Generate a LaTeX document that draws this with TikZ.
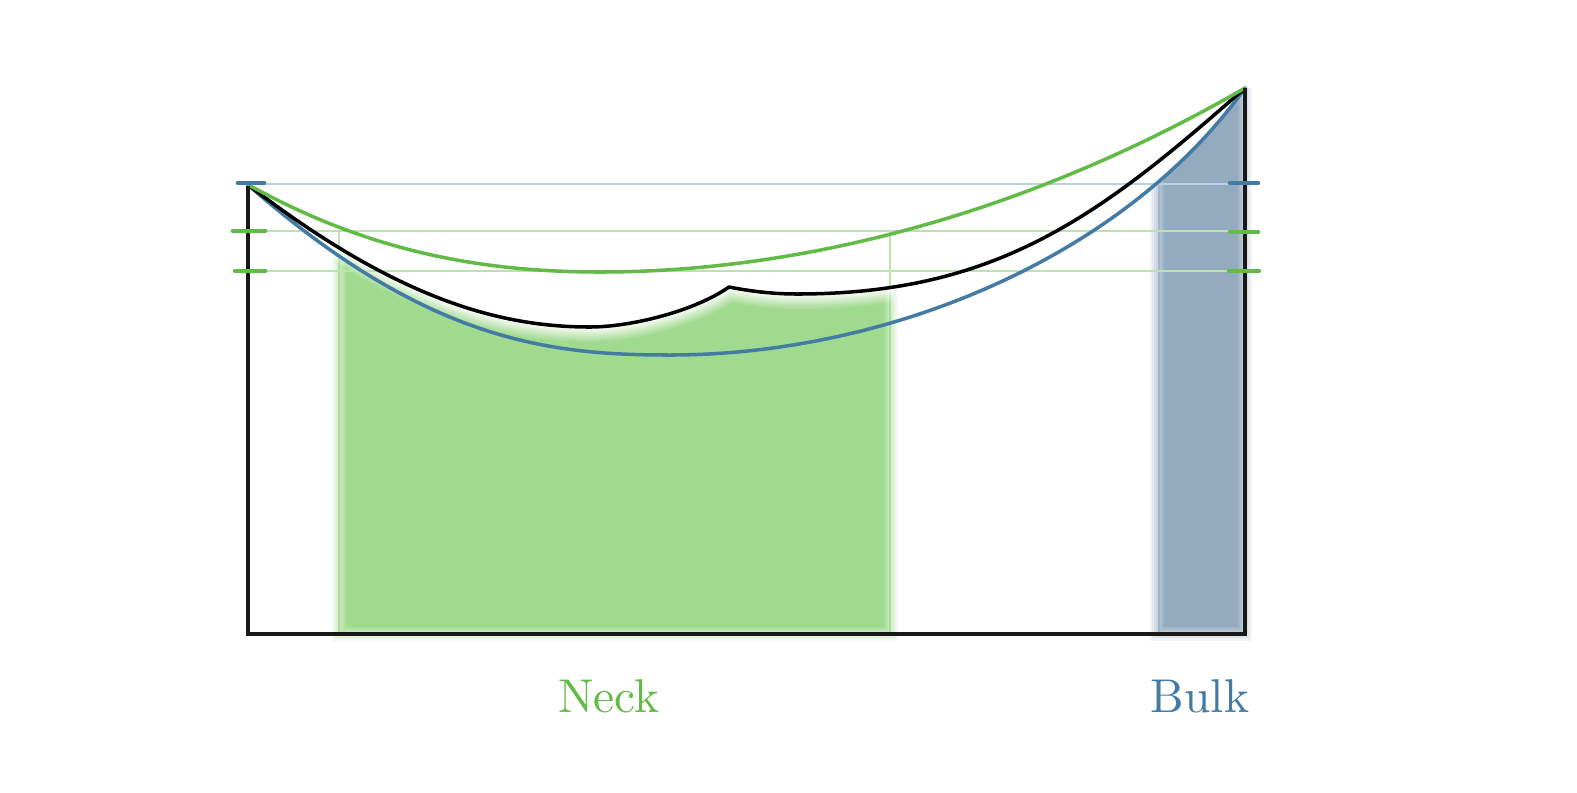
\documentclass[tikz,border=0pt]{standalone}
\usepackage{fontspec}
\newfontfamily\labelfont{lmroman10-regular.otf}
\definecolor{cgreen}{HTML}{62BB46}
\definecolor{cblue}{HTML}{437BA5}
\definecolor{fgreen}{HTML}{A0DA8E}
\definecolor{fblue}{HTML}{94AABE}
\definecolor{gguide}{HTML}{BCE2B0}
\definecolor{bguide}{HTML}{B8D0E0}
\tikzset{
  curve/.style={line width=2pt, line cap=round, line join=round},
  guide/.style={line width=0.6pt},
  tickmark/.style={line width=2.6pt, line cap=round},
  axisline/.style={line width=2pt, black!90},
  lbl/.style={font=\labelfont\fontsize{27}{32}\selectfont, anchor=base},
}
% blurred rectangle: colour, x1, y1, x2, y2 (pixel units)
\newcommand\blurrect[5]{%
  \foreach \k in {1,...,8} {%
    \pgfmathsetmacro\dd{7-(\k-1)*2}%
    \pgfmathsetmacro\op{1/(9-\k)}%
    \fill[#1, fill opacity=\op] ({#2-\dd},{#3-\dd}) rectangle ({#4+\dd},{#5+\dd});
  }}
\def\blackpath{(A) .. controls (397,299.5) and (500,327) .. (590,327) .. controls (630,327) and (694,311.5) .. (729,287) .. controls (749,291) and (772,294) .. (797,294) .. controls (997,294) and (1100,216) .. (B)}
\def\bluepath{(A) .. controls (427,342) and (550,355) .. (670,355) .. controls (890,355) and (1125,256) .. (B)}
\def\greenpath{(A) .. controls (367,251) and (480,272) .. (600,272) .. controls (800,272) and (1025,215) .. (B)}
\begin{document}
\begin{tikzpicture}[x=0.02cm,y=-0.02cm]
\useasboundingbox (0,0) rectangle (1577,792);
\coordinate (A) at (247,184);
\coordinate (B) at (1245,88);
% vertical guide lines (under fills)
\draw[guide, gguide] (339,231) -- (339,634);
\draw[guide, gguide] (890,231) -- (890,634);
\draw[guide, bguide] (1159,184) -- (1159,634);
% neck region: under the black curve
\begin{scope}
  \clip \blackpath -- (1270,88) -- (1270,660) -- (225,660) -- (225,184) -- cycle;
  \blurrect{fgreen}{339}{150}{891}{634}
  % white halo along the black curve
  \clip (330,150) rectangle (900,660);
  \foreach \k in {1,...,8} {%
    \pgfmathsetmacro\ww{(2+(8-\k)*4)*0.567}%
    \pgfmathsetmacro\op{1/(9-\k)}%
    \draw[white, draw opacity=\op, line width=\ww pt] \blackpath;
  }
\end{scope}
% bulk region: under the blue curve
\begin{scope}
  \clip \bluepath -- (1270,88) -- (1270,660) -- (225,660) -- (225,184) -- cycle;
  \blurrect{fblue}{1157}{60}{1245}{634}
\end{scope}
% horizontal guides
\draw[guide, bguide] (248,184) -- (1245,184);
\draw[guide, gguide] (248,231) -- (1245,231);
\draw[guide, gguide] (248,271) -- (1245,271);
% curves
\draw[curve, cblue] \bluepath;
\draw[curve, black] \blackpath;
\draw[curve, cgreen] \greenpath;
% axes
\draw[axisline] (248,186) -- (248,634) -- (1245,634) -- (B);
% ticks
\draw[tickmark, cblue] (238,183) -- (264,183);
\draw[tickmark, cgreen] (233,231) -- (265,231);
\draw[tickmark, cgreen] (235,271) -- (265,271);
\draw[tickmark, cblue] (1230,183) -- (1258,183);
\draw[tickmark, cgreen] (1230,232) -- (1258,232);
\draw[tickmark, cgreen] (1229,271) -- (1259,271);
% labels
\node[lbl, text=cgreen] (neck) at (609,712) {Neck};
\node[lbl, text=cblue] (bulk) at (1200,712) {Bulk};
\end{tikzpicture}
\end{document}
